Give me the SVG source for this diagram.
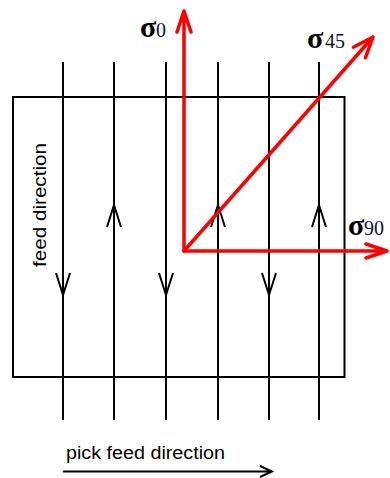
<svg xmlns="http://www.w3.org/2000/svg" width="390" height="478" viewBox="0 0 390 478">
<style>
.blk{fill:none;stroke:#000;stroke-width:2}
.red{fill:none;stroke:#f00;stroke-width:3.5;stroke-linecap:round;stroke-linejoin:round}
.sig{font-family:"Liberation Serif","Times New Roman",serif;font-weight:bold;font-size:30px;fill:#000}
.sub{font-family:"Liberation Serif","Times New Roman",serif;font-size:20px;fill:#111133}
.lbl{font-family:"Liberation Sans",Arial,sans-serif;font-size:18px;fill:#000}
</style>
<defs>
<path id="up" d="M-7,22 L0,0 L7,22" class="blk"/>
<path id="down" d="M-7,-22 L0,0 L7,-22" class="blk"/>
</defs>
<rect fill="#fff" width="390" height="478"/>
<g id="specimen">
<rect x="13" y="97" width="331.5" height="280" class="blk"/>
</g>
<g id="connectors">
<path class="blk" d="M63,62V420M114,62V420M166,62V420M218,62V420M269,62V420M319,62V420"/>
<use href="#down" x="63" y="295"/>
<use href="#down" x="166" y="295"/>
<use href="#down" x="269" y="295"/>
<use href="#up" x="114" y="205"/>
<use href="#up" x="218" y="205"/>
<use href="#up" x="319" y="205"/>
<path class="blk" d="M63,471.5H271M260,466L272,471.5L260,477"/>
</g>
<g id="axes">
<path class="red" d="M184,251V11M177,32L184,11L191,32"/>
<path class="red" d="M184,251H387M366,244L387,251L366,258"/>
<path class="red" d="M184,251L373,37M365.4,57.8L373,37L353.4,47.2"/>
</g>
<g id="labels">
<text class="sig" x="140" y="37">σ</text><text class="sub" x="156" y="37">0</text>
<text class="sig" x="307" y="48">σ</text><text class="sub" x="325" y="48">45</text>
<text class="sig" x="348" y="235">σ</text><text class="sub" x="364" y="235">90</text>
<text class="lbl" transform="translate(46,267) rotate(-90)" textLength="124" lengthAdjust="spacingAndGlyphs">feed direction</text>
<text class="lbl" x="66" y="459" textLength="159" lengthAdjust="spacingAndGlyphs">pick feed direction</text>
</g>
</svg>
